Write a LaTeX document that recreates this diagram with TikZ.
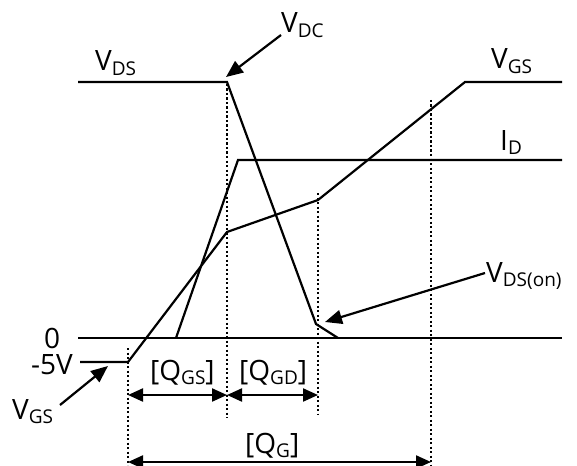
\documentclass[tikz,border=0pt]{standalone}
\usepackage{fontspec}
\setmainfont{Open Sans}
\usetikzlibrary{arrows.meta}
\newcommand\vsub[2]{#1\raisebox{-0.3ex}{\fontsize{19}{19}\selectfont #2}}
\begin{document}
\begin{tikzpicture}[x=1pt,y=-1pt,
  curve/.style={line width=2.2pt},
  guide/.style={line width=2.2pt, dash pattern=on 2.2pt off 2.3pt},
  pointer/.style={line width=2.2pt,-{Triangle[length=17pt,width=14pt]}},
  dim/.style={line width=2.2pt,{Triangle[length=15pt,width=13pt]}-{Triangle[length=15pt,width=13pt]}},
  lbl/.style={inner sep=0pt, anchor=base west, font=\fontsize{28}{30}\selectfont}]
\useasboundingbox[fill=white] (0,0) rectangle (577,465);

% key coordinates
\coordinate (vds0) at (78,82);
\coordinate (vds1) at (227,82);
\coordinate (vds2) at (316,324);
\coordinate (vds3) at (338,338);
\coordinate (z0) at (78,338);
\coordinate (z1) at (562,338);
\coordinate (m0) at (80,362);
\coordinate (g0) at (128,362);
\coordinate (g1) at (227,232);
\coordinate (g2) at (318,200);
\coordinate (g3) at (465,82);
\coordinate (g4) at (562,82);
\coordinate (i0) at (176,338);
\coordinate (i1) at (238,160);
\coordinate (i2) at (562,160);

% dotted guides
\coordinate (d1t) at (227,84); \coordinate (d1b) at (227,418);
\coordinate (d2t) at (318,193); \coordinate (d2b) at (318,414);
\coordinate (d3t) at (431,100); \coordinate (d3b) at (431,465);
\coordinate (d4t) at (128,348); \coordinate (d4b) at (128,465);
\draw[guide] (d1t) -- (d1b);
\draw[guide] (d2t) -- (d2b);
\draw[guide] (d3t) -- (d3b);
\draw[guide] (d4t) -- (d4b);

% curves
\draw[curve] (vds0) -- (vds1) -- (vds2) -- (vds3);
\draw[curve] (z0) -- (z1);
\draw[curve] (m0) -- (g0) -- (g1) -- (g2) -- (g3) -- (g4);
\draw[curve] (i0) -- (i1) -- (i2);

% labels
\node[lbl] (lvds) at (95,71) {\vsub{V}{DS}};
\node[lbl] (lvdc) at (281,33) {\vsub{V}{DC}};
\node[lbl] (lvgs) at (491,69) {\vsub{V}{GS}};
\node[lbl] (lid) at (500,150) {\vsub{I}{D}};
\node[lbl] (lvdson) at (486,282) {\vsub{V}{DS(on)}};
\node[lbl] (lzero) at (44,348) {0};
\node[lbl] (lm5) at (31,374) {-5V};
\node[lbl] (lvgsb) at (12,419) {\vsub{V}{GS}};
\node[lbl] (lqgs) at (150,380) {[\vsub{Q}{GS}]};
\node[lbl] (lqgd) at (239,380) {[\vsub{Q}{GD}]};
\node[lbl] (lqg) at (245,453) {[\vsub{Q}{G}]};

% pointer arrows
\coordinate (pdc) at (281,35);
\coordinate (pdcH) at (226,77);
\coordinate (pgs) at (60,405);
\coordinate (pgsH) at (108,366);
\coordinate (pon) at (485,273);
\coordinate (ponH) at (325,322);
\draw[pointer] (pdc) -- (pdcH);
\draw[pointer] (pgs) -- (pgsH);
\draw[pointer] (pon) -- (ponH);

% dimension arrows
\coordinate (a0) at (128,395); \coordinate (a1) at (227,395);
\coordinate (a2) at (318,395);
\coordinate (b0) at (128,462); \coordinate (b1) at (431,462);
\draw[dim] (a0) -- (a1);
\draw[dim] (a1) -- (a2);
\draw[dim] (b0) -- (b1);
\end{tikzpicture}
\end{document}
